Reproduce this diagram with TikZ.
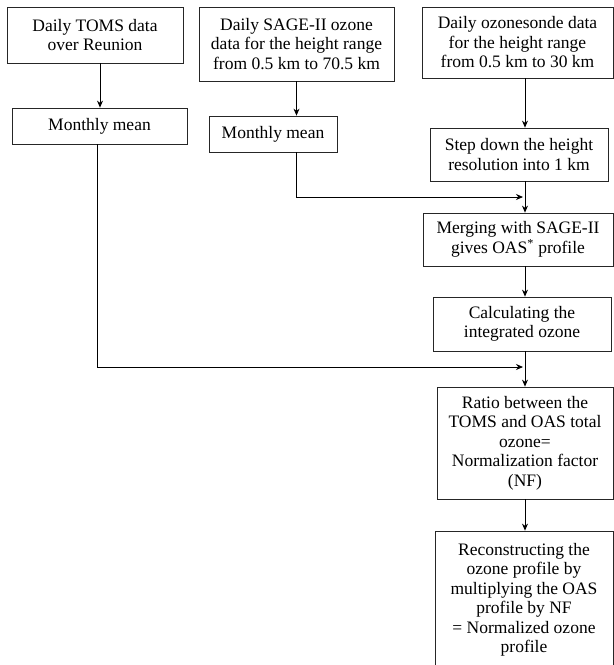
\documentclass[tikz,border=0pt]{standalone}
\usepackage{fontspec}
\setmainfont{Liberation Serif}
\usetikzlibrary{arrows.meta}
\begin{document}
\begin{tikzpicture}[x=1pt,y=-1pt,
  box/.style={draw=black!85, line width=0.8pt, inner sep=0pt, align=center,
    font=\rmfamily\fontsize{17.5}{19.5}\selectfont},
  arr/.style={line width=0.8pt, -{Stealth[length=7pt,width=6pt]}},
  ln/.style={line width=0.8pt}]
\useasboundingbox (0,0) rectangle (614,665);
% top row
\node[box, minimum width=176pt, minimum height=56pt] (toms) at (95,35) {Daily TOMS data\\over Reunion};
\node[box, minimum width=195pt, minimum height=74pt] (sage) at (296.5,44) {Daily SAGE-II ozone\\data for the height range\\from 0.5 km to 70.5 km};
\node[box, minimum width=191pt, minimum height=71pt] (sonde) at (517.5,42.5) {Daily ozonesonde data\\for the height range\\from 0.5 km to 30 km};
% second row
\node[box, minimum width=175pt, minimum height=36pt] (mm1) at (99.5,126) {Monthly mean};
\node[box, minimum width=128pt, minimum height=36pt] (mm2) at (273,134) {Monthly mean};
\node[box, minimum width=178pt, minimum height=53pt] (step) at (519,154.5) {Step down the height\\resolution into 1 km};
% right column
\node[box, minimum width=190pt, minimum height=53pt] (merge) at (518,239.5) {Merging with SAGE-II\\gives OAS\textsuperscript{*} profile};
\node[box, minimum width=178pt, minimum height=54pt] (calc) at (522,324) {Calculating the\\integrated ozone};
\node[box, minimum width=176pt, minimum height=112pt] (ratio) at (525,443) {Ratio between the\\TOMS and OAS total\\ozone=\\Normalization factor\\(NF)};
\node[box, minimum width=178pt, minimum height=138pt] (recon) at (524,600) {Reconstructing the\\ozone profile by\\multiplying the OAS\\profile by NF\\= Normalized ozone\\profile};
% column references
\coordinate (X) at (525,0);
\coordinate (XL) at (97,0);
\coordinate (j1) at (523,197);
\coordinate (j2) at (523,367);
% connectors
\draw[arr] ([xshift=5pt]toms.south) -- ([xshift=5pt]toms.south |- mm1.north);
\draw[arr] (sage.south) -- (sage.south |- mm2.north);
\draw[arr] (sonde.south -| X) -- (step.north -| X);
\draw[arr] (sage.south |- mm2.south) |- (j1);
\draw[arr] (step.south -| X) -- (merge.north -| X);
\draw[arr] (merge.south -| X) -- (calc.north -| X);
\draw[arr] (XL |- mm1.south) |- (j2);
\draw[arr] (calc.south -| X) -- (ratio.north -| X);
\draw[arr] (ratio.south -| X) -- (recon.north -| X);
\end{tikzpicture}
\end{document}
